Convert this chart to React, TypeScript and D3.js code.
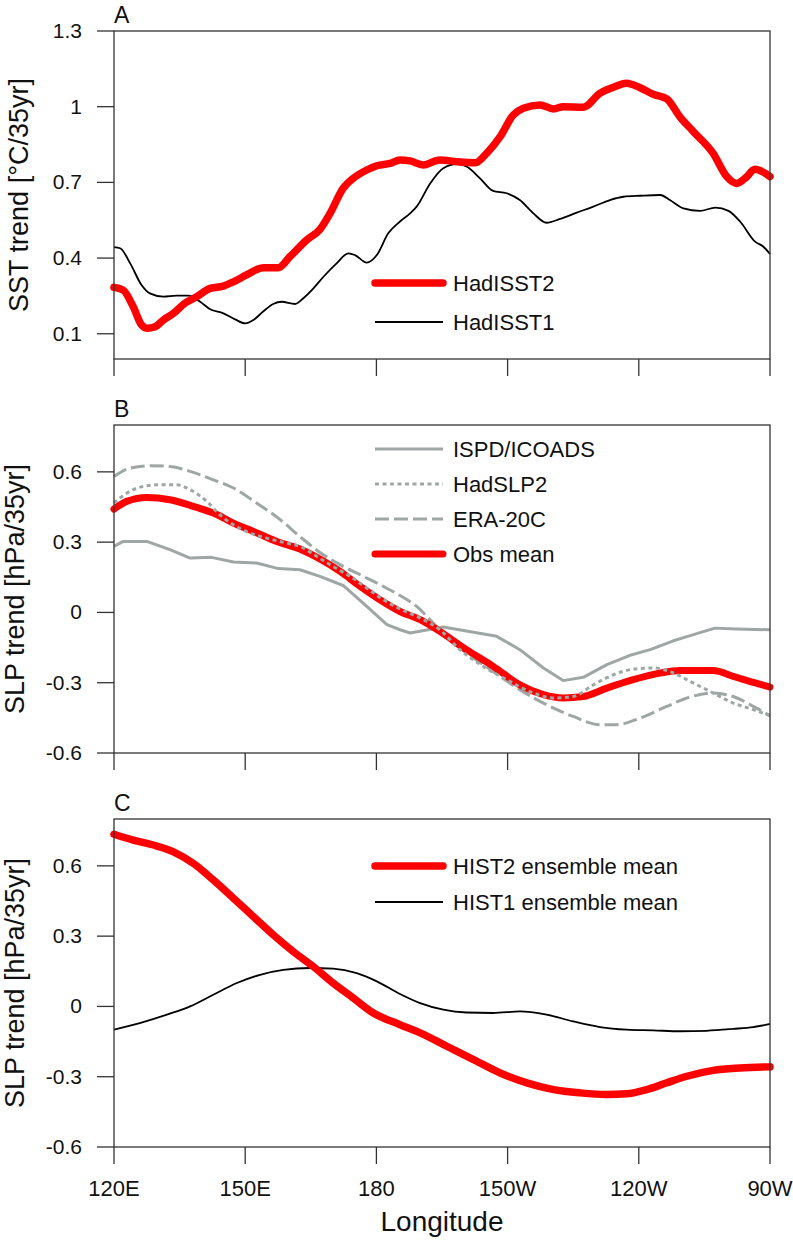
import React from "react";
import * as d3 from "d3";

// ---------- DATA ----------
const xTickLons = [120, 150, 180, 210, 240, 270];
const xTickLabels = ["120E", "150E", "180", "150W", "120W", "90W"];

const ticksA = [0.1, 0.4, 0.7, 1.0, 1.3];
const tickLabelsA = ["0.1", "0.4", "0.7", "1", "1.3"];
const ticksSLP = [-0.6, -0.3, 0, 0.3, 0.6];
const tickLabelsSLP = ["-0.6", "-0.3", "0", "0.3", "0.6"];

// Panel A
const hadisst2Lon = [120,122.1,124.4,126.3,127.5,129.4,131.3,133.6,136.2,138.9,142.0,145.0,147.3,150.3,154.1,157.6,160.2,164.1,167.1,169.4,172.4,174.7,177.8,180.1,183.1,185.4,187.7,190.7,194.5,198.4,202.6,205.2,208.3,211.3,213.6,217.4,220.5,222.7,227.3,231.1,234.2,237.2,240.3,243.3,246.4,249.4,252.5,257.0,260.1,262.4,264.3,266.6,268.5,270];
const hadisst2 = [0.284,0.273,0.207,0.135,0.122,0.128,0.155,0.181,0.221,0.247,0.280,0.289,0.306,0.333,0.362,0.362,0.405,0.472,0.514,0.577,0.677,0.716,0.749,0.766,0.775,0.789,0.785,0.769,0.789,0.782,0.778,0.815,0.881,0.967,0.994,1.007,0.991,1.000,0.998,1.053,1.077,1.093,1.075,1.049,1.031,0.960,0.901,0.815,0.723,0.696,0.716,0.752,0.740,0.723];
const hadisst1Lon = [120,121.4,123.7,126.3,128.2,131.3,134.3,137.0,139.7,142.0,145.0,147.7,150.0,151.9,154.1,156.4,158.3,161.4,163.3,165.6,167.9,170.9,173.6,175.1,177.8,180.1,182.7,185.4,187.7,189.2,192.3,195.3,198.4,200.7,203.7,206.7,209.8,212.8,215.9,218.9,222.0,225.8,229.6,233.4,236.5,240.3,244.9,247.1,250.2,254.0,257.5,260.5,263.2,266.6,268.5,270];
const hadisst1 = [0.443,0.439,0.379,0.293,0.260,0.247,0.251,0.251,0.227,0.197,0.181,0.157,0.141,0.155,0.188,0.218,0.227,0.218,0.241,0.280,0.326,0.379,0.419,0.412,0.382,0.412,0.498,0.545,0.577,0.604,0.696,0.756,0.772,0.762,0.716,0.666,0.657,0.630,0.577,0.540,0.555,0.580,0.604,0.630,0.643,0.647,0.650,0.630,0.597,0.587,0.600,0.587,0.544,0.465,0.445,0.416];

// Panel B
const ispdLon = [120,122.1,127.5,132.8,137.4,142.3,147.3,152.6,157.6,162.5,167.1,172.4,177.8,182.4,185.4,187.7,195.3,207.5,212.8,218.2,222.7,227.3,232.7,238.0,242.6,247.9,252.5,257.4,262.4,270];
const ispd = [0.282,0.303,0.303,0.268,0.232,0.235,0.215,0.211,0.187,0.182,0.154,0.115,0.026,-0.052,-0.074,-0.088,-0.062,-0.102,-0.159,-0.237,-0.291,-0.277,-0.223,-0.183,-0.159,-0.121,-0.095,-0.067,-0.071,-0.074];
const hadslp2Lon = [120,122.9,126.7,130.5,134.3,137.4,141.2,144.2,147.3,151.1,154.9,159.5,162.5,166.4,170.1,174.0,177.8,181.6,185.4,190.0,194.5,199.1,204.4,209.8,215.9,220.5,225.0,229.6,234.2,238.7,243.3,247.1,251.7,257.0,261.6,266.2,270];
const hadslp2 = [0.467,0.509,0.538,0.545,0.545,0.524,0.474,0.417,0.374,0.339,0.317,0.296,0.282,0.239,0.196,0.154,0.104,0.054,0.015,-0.024,-0.074,-0.159,-0.230,-0.287,-0.344,-0.365,-0.359,-0.309,-0.266,-0.242,-0.237,-0.252,-0.294,-0.344,-0.387,-0.415,-0.441];
const era20cLon = [120,123.7,128.2,132.8,137.4,142.7,147.3,152.6,158.0,162.5,167.1,171.7,177.0,181.6,185.4,189.2,193.0,196.8,200.6,206.7,212.8,218.9,225.0,231.1,234.9,240.3,246.4,251.7,257.0,261.6,266.2,270];
const era20c = [0.580,0.616,0.626,0.623,0.602,0.566,0.531,0.467,0.396,0.324,0.256,0.204,0.154,0.111,0.072,0.026,-0.045,-0.117,-0.173,-0.252,-0.330,-0.394,-0.444,-0.479,-0.479,-0.451,-0.401,-0.361,-0.344,-0.359,-0.401,-0.441];
const obsMeanLon = [120,122.9,127.5,132.8,138.1,143.5,147.3,151.9,157.2,162.5,167.1,171.7,176.3,180.8,185.4,190.0,194.5,200.6,206.7,212.8,218.2,222.7,227.3,232.7,238.7,244.8,249.4,257.0,261.6,266.2,270];
const obsMean = [0.441,0.474,0.491,0.481,0.453,0.418,0.381,0.346,0.303,0.271,0.228,0.175,0.111,0.054,0.004,-0.031,-0.081,-0.159,-0.230,-0.309,-0.351,-0.365,-0.359,-0.323,-0.287,-0.259,-0.248,-0.248,-0.273,-0.299,-0.319];

// Panel C
const hist2Lon = [120,124.4,129.0,133.6,138.1,142.7,147.3,151.9,156.4,161.0,165.6,170.1,174.7,179.3,185.4,190.0,196.1,202.2,208.3,214.4,220.5,226.6,232.7,237.2,241.8,246.4,251.0,257.0,263.1,270];
const hist2 = [0.735,0.710,0.689,0.660,0.611,0.540,0.462,0.383,0.306,0.234,0.170,0.100,0.036,-0.028,-0.078,-0.113,-0.170,-0.227,-0.284,-0.326,-0.355,-0.369,-0.376,-0.373,-0.355,-0.326,-0.298,-0.273,-0.263,-0.258];
const hist1Lon = [120,125.9,132.1,137.4,142.7,148.1,153.4,158.7,164.8,170.1,175.5,180.1,185.4,190.0,195.3,200.6,206.7,212.8,218.9,225.0,231.1,237.2,243.3,249.4,255.5,261.6,266.2,269.2,270];
const hist1 = [-0.099,-0.071,-0.035,0.000,0.050,0.100,0.135,0.156,0.164,0.161,0.142,0.107,0.053,0.014,-0.014,-0.026,-0.028,-0.021,-0.035,-0.064,-0.088,-0.099,-0.102,-0.106,-0.104,-0.096,-0.088,-0.078,-0.074];

// ---------- STYLE ----------
const RED = "#ff0000";
const GRAY = "#9ea7a5";
const BLACK = "#000000";
const FRAME = "#333333";
const FONT = "'Liberation Sans', Arial, Helvetica, sans-serif";

const left = 114;
const right = 770;
const panelH = 328;
const panelTops = [31, 425, 819];

const x = d3.scaleLinear().domain([120, 270]).range([left, right]);

type Series = {
  lon: number[];
  val: number[];
  color: string;
  width: number;
  dash?: string;
  curve?: any;
  label: string;
};

function Panel(props: {
  top: number;
  letter: string;
  yDomain: [number, number];
  ticks: number[];
  tickLabels: string[];
  yTitle: string;
  titleX: number;
  series: Series[];
  legendY: number;
  legendGap: number;
  legendOrder: number[];
  showXLabels: boolean;
}) {
  const { top } = props;
  const bottom = top + panelH;
  const y = d3.scaleLinear().domain(props.yDomain).range([bottom, top]);
  const centerY = (top + bottom) / 2;
  return (
    <g>
      <text x={left} y={top - 8} fontSize={23} fontFamily={FONT} fill="#111">
        {props.letter}
      </text>
      {props.series.map((s, i) => {
        const line = d3
          .line<number>()
          .x((_, j) => x(s.lon[j]))
          .y((v) => y(v))
          .curve(s.curve || d3.curveMonotoneX);
        return (
          <path
            key={i}
            d={line(s.val) || ""}
            fill="none"
            stroke={s.color}
            strokeWidth={s.width}
            strokeDasharray={s.dash}
            strokeLinecap={s.width > 4 ? "round" : "butt"}
            strokeLinejoin="round"
          />
        );
      })}
      <rect
        x={left}
        y={top}
        width={right - left}
        height={panelH}
        fill="none"
        stroke={FRAME}
        strokeWidth={1.3}
      />
      {props.ticks.map((t, i) => (
        <g key={i}>
          <line x1={left - 17} x2={left} y1={y(t)} y2={y(t)} stroke={FRAME} strokeWidth={1.3} />
          <text
            x={82}
            y={y(t) + 7}
            textAnchor="end"
            fontSize={21}
            fontFamily={FONT}
            fill="#111"
          >
            {props.tickLabels[i]}
          </text>
        </g>
      ))}
      {xTickLons.map((t, i) => (
        <g key={i}>
          <line x1={x(t)} x2={x(t)} y1={bottom} y2={bottom + 17} stroke={FRAME} strokeWidth={1.3} />
          {props.showXLabels && (
            <text
              x={x(t)}
              y={bottom + 49}
              textAnchor="middle"
              fontSize={22}
              fontFamily={FONT}
              fill="#111"
            >
              {xTickLabels[i]}
            </text>
          )}
        </g>
      ))}
      <text
        transform={`translate(${props.titleX},${centerY}) rotate(-90)`}
        textAnchor="middle"
        fontSize={27}
        fontFamily={FONT}
        fill="#111"
      >
        {props.yTitle}
      </text>
      {props.legendOrder.map((si, k) => {
        const s = props.series[si];
        const ly = props.legendY + k * props.legendGap;
        return (
          <g key={k}>
            <line
              x1={375}
              x2={443}
              y1={ly}
              y2={ly}
              stroke={s.color}
              strokeWidth={s.width}
              strokeDasharray={s.dash}
              strokeLinecap={s.width > 4 ? "round" : "butt"}
            />
            <text x={453} y={ly + 8} fontSize={22} fontFamily={FONT} fill="#111">
              {s.label}
            </text>
          </g>
        );
      })}
    </g>
  );
}

export default function App() {
  const seriesA: Series[] = [
    { lon: hadisst1Lon, val: hadisst1, color: BLACK, width: 1.8, label: "HadISST1" },
    { lon: hadisst2Lon, val: hadisst2, color: RED, width: 7.5, label: "HadISST2" },
  ];
  const seriesB: Series[] = [
    { lon: ispdLon, val: ispd, color: GRAY, width: 3, curve: d3.curveLinear, label: "ISPD/ICOADS" },
    { lon: era20cLon, val: era20c, color: GRAY, width: 3, dash: "14,5", label: "ERA-20C" },
    { lon: obsMeanLon, val: obsMean, color: RED, width: 7, label: "Obs mean" },
    { lon: hadslp2Lon, val: hadslp2, color: GRAY, width: 3, dash: "4,3.5", label: "HadSLP2" },
  ];
  const seriesC: Series[] = [
    { lon: hist1Lon, val: hist1, color: BLACK, width: 1.8, label: "HIST1 ensemble mean" },
    { lon: hist2Lon, val: hist2, color: RED, width: 7.5, label: "HIST2 ensemble mean" },
  ];
  return (
    <svg
      width={793}
      height={1242}
      style={{ position: "absolute", left: 0, top: 0, background: "#fff" }}
    >
      <rect x={0} y={0} width={793} height={1242} fill="#fff" />
      <Panel
        top={panelTops[0]}
        letter="A"
        yDomain={[0, 1.3]}
        ticks={ticksA}
        tickLabels={tickLabelsA}
        yTitle="SST trend [°C/35yr]"
        titleX={28}
        series={seriesA}
        legendY={283}
        legendGap={39}
        legendOrder={[1, 0]}
        showXLabels={false}
      />
      <Panel
        top={panelTops[1]}
        letter="B"
        yDomain={[-0.6, 0.8]}
        ticks={ticksSLP}
        tickLabels={tickLabelsSLP}
        yTitle="SLP trend [hPa/35yr]"
        titleX={24}
        series={seriesB}
        legendY={449}
        legendGap={35}
        legendOrder={[0, 3, 1, 2]}
        showXLabels={false}
      />
      <Panel
        top={panelTops[2]}
        letter="C"
        yDomain={[-0.6, 0.8]}
        ticks={ticksSLP}
        tickLabels={tickLabelsSLP}
        yTitle="SLP trend [hPa/35yr]"
        titleX={24}
        series={seriesC}
        legendY={866}
        legendGap={36}
        legendOrder={[1, 0]}
        showXLabels={true}
      />
      <text
        x={(left + right) / 2}
        y={1231}
        textAnchor="middle"
        fontSize={28}
        fontFamily={FONT}
        fill="#111"
      >
        Longitude
      </text>
    </svg>
  );
}
